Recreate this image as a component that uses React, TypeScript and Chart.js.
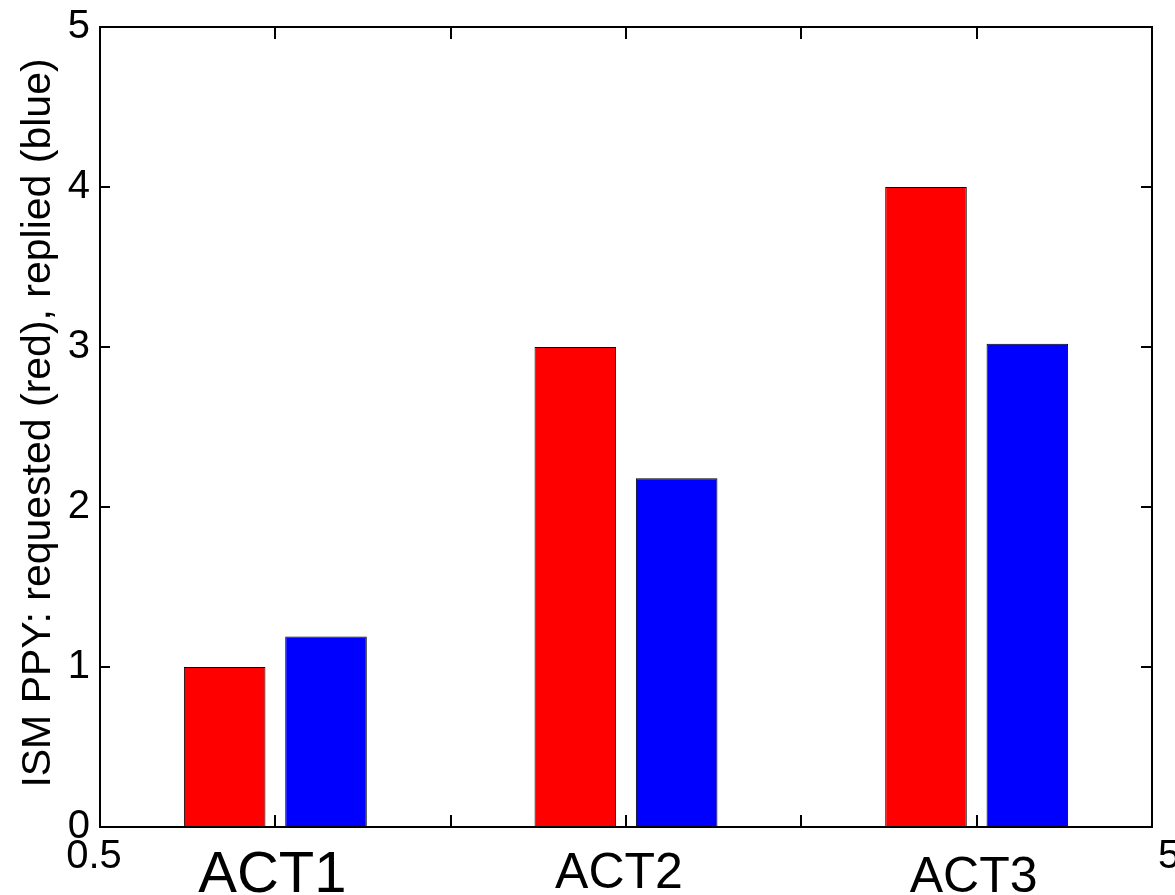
import React, { useEffect, useRef } from 'react';
import { Chart, registerables } from 'chart.js';

Chart.register(...registerables);

// ---- data ----
const categories = ['ACT1', 'ACT2', 'ACT3'];
const requested = [1.0, 3.0, 4.0];
const replied = [1.19, 2.18, 3.02];
const yTicks = [0, 1, 2, 3, 4, 5];
const xTickPositions = [1, 1.5, 2, 2.5, 3];
const xLeftLabel = '0.5';
const xRightLabel = '5';
const yTitle = 'ISM PPY: requested (red), replied (blue)';

const FONT = '"Liberation Sans", Arial, Helvetica, sans-serif';

const matlabAxes = {
  id: 'matlabAxes',
  afterDraw(chart: any) {
    const ctx = chart.ctx;
    const { left, right, top, bottom } = chart.chartArea;
    const xs = chart.scales.x;
    const ys = chart.scales.y;
    ctx.save();
    ctx.strokeStyle = '#000';
    ctx.lineWidth = 2;
    ctx.strokeRect(left, top, right - left, bottom - top);

    ctx.lineWidth = 2;
    ctx.beginPath();
    yTicks.forEach((v) => {
      const py = Math.round(ys.getPixelForValue(v));
      ctx.moveTo(left, py);
      ctx.lineTo(left + 10, py);
      ctx.moveTo(right, py);
      ctx.lineTo(right - 11, py);
    });
    xTickPositions.forEach((v) => {
      const px = Math.round(xs.getPixelForValue(v - 1));
      ctx.moveTo(px, bottom);
      ctx.lineTo(px, bottom - 12);
      ctx.moveTo(px, top);
      ctx.lineTo(px, top + 12);
    });
    ctx.stroke();

    ctx.fillStyle = '#000';
    // y tick labels
    ctx.font = `40px ${FONT}`;
    ctx.textAlign = 'right';
    ctx.textBaseline = 'middle';
    yTicks.forEach((v) => {
      const py = ys.getPixelForValue(v);
      ctx.fillText(String(v), left - 10, py);
    });

    // x edge labels
    ctx.textBaseline = 'alphabetic';
    ctx.textAlign = 'center';
    ctx.fillText(xLeftLabel, xs.getPixelForValue(-0.5) - 6, bottom + 41);
    ctx.textAlign = 'left';
    ctx.fillText(xRightLabel, xs.getPixelForValue(2.5) + 6, bottom + 41);

    // category labels
    ctx.textAlign = 'center';
    categories.forEach((c, i) => {
      const px = xs.getPixelForValue(i);
      if (i === 0) {
        ctx.font = `58px ${FONT}`;
        ctx.fillText(c, px - 3, bottom + 65);
      } else {
        ctx.font = `50px ${FONT}`;
        ctx.fillText(c, px - (i === 1 ? 7 : 3), bottom + (i === 1 ? 61 : 65));
      }
    });

    // y title
    ctx.font = `41px ${FONT}`;
    ctx.translate(50, (top + bottom) / 2 - 4);
    ctx.rotate(-Math.PI / 2);
    ctx.textAlign = 'center';
    ctx.textBaseline = 'alphabetic';
    ctx.fillText(yTitle, 0, 0);
    ctx.restore();
  },
};

export default function App() {
  const ref = useRef<HTMLCanvasElement | null>(null);

  useEffect(() => {
    document.body.style.margin = '0';
    const canvas = ref.current;
    if (!canvas) return;
    const chart = new Chart(canvas, {
      type: 'bar',
      data: {
        labels: categories,
        datasets: [
          {
            label: 'requested',
            data: requested,
            backgroundColor: '#ff0000',
            borderColor: '#000000',
            borderWidth: 1,
            borderSkipped: false,
            categoryPercentage: 0.578,
            barPercentage: 0.805,
          },
          {
            label: 'replied',
            data: replied,
            backgroundColor: '#0000ff',
            borderColor: '#000000',
            borderWidth: 1,
            borderSkipped: false,
            categoryPercentage: 0.578,
            barPercentage: 0.805,
          },
        ],
      },
      options: {
        responsive: false,
        animation: false,
        maintainAspectRatio: false,
        layout: { padding: { left: 100, right: 23, top: 27, bottom: 68 } },
        scales: {
          x: { type: 'category', display: false, offset: true },
          y: { type: 'linear', display: false, min: 0, max: 5 },
        },
        plugins: {
          legend: { display: false },
          tooltip: { enabled: false },
        },
      },
      plugins: [matlabAxes],
    });
    return () => chart.destroy();
  }, []);

  return (
    <div style={{ position: 'absolute', left: 0, top: 0, width: 1175, height: 895, background: '#fff' }}>
      <canvas ref={ref} width={1175} height={895} style={{ display: 'block' }} />
    </div>
  );
}
